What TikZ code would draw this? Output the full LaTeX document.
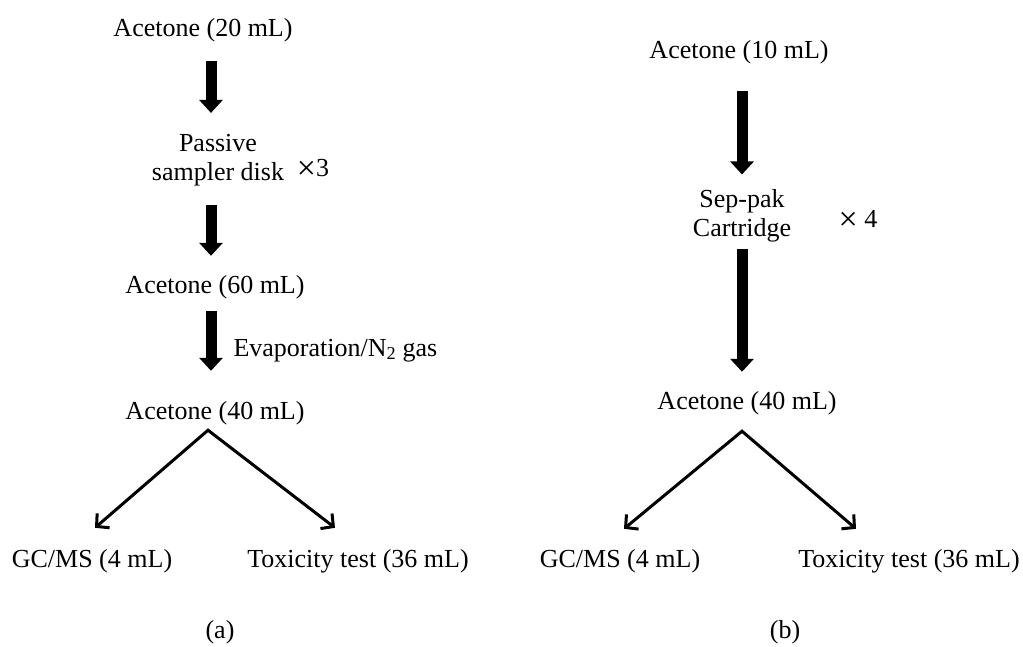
\documentclass[tikz,border=0pt]{standalone}
\usepackage{fontspec}
\setmainfont{Liberation Serif}
\usetikzlibrary{arrows.meta}

\newcommand{\bigtimes}{\raisebox{-3pt}{\fontsize{34}{34}\selectfont ×}}

\tikzset{
  txt/.style={inner sep=0pt, font=\fontsize{26}{29}\selectfont, text height=18pt, text depth=6pt},
  twoline/.style={inner sep=0pt, font=\fontsize{26}{29}\selectfont, align=center},
  fatarrow/.style={line width=11pt, -{Triangle[length=13pt,width=23pt]}},
  fork/.style={line width=3pt, line join=miter, {Straight Barb[length=9pt,width=19pt]}-{Straight Barb[length=9pt,width=19pt]}},
}

\begin{document}
\begin{tikzpicture}[x=1pt, y=-1pt]
    \useasboundingbox (0,0) rectangle (1023,646);
    \coordinate (colA) at (211,0);
    \coordinate (colB) at (742,0);

    % (a) passive sampler
    \node[txt] (a20) at (203,30) {Acetone (20 mL)};
    \node[twoline] (disk) at (218,160) {Passive\\sampler disk};
    \node[txt] (timesA) at (313,170) {\bigtimes3};
    \node[txt] (a60) at (215,287) {Acetone (60 mL)};
    \node[txt] (a40l) at (215,413) {Acetone (40 mL)};
    \node[txt] (gcA) at (92,561) {GC/MS (4 mL)};
    \node[txt] (toxA) at (358,561) {Toxicity test (36 mL)};
    \node[txt] (capA) at (220,632) {(a)};

    \draw[fatarrow, shorten <=19pt, shorten >=21pt] (colA |- a20.south) -- (colA |- disk.north);
    \draw[fatarrow, shorten <=19pt, shorten >=19pt] (colA |- disk.south) -- (colA |- a60.north);
    \draw[fatarrow, shorten <=12pt, shorten >=30pt] (colA |- a60.south) -- (colA |- a40l.north)
        node[txt, midway, right=17pt] (evap) {Evaporation/N\textsubscript{2} gas};
    \coordinate (forkA) at ([xshift=-7pt, yshift=-5pt]a40l.south);
    \draw[fork] ([shift={(3pt,21pt)}]gcA.north) -- (forkA) -- ([shift={(-23pt,21pt)}]toxA.north);

    % (b) sep-pak cartridge
    \node[txt] (a10) at (739,52) {Acetone (10 mL)};
    \node[twoline] (sep) at (742,216) {Sep-pak\\Cartridge};
    \node[txt] (timesB) at (858,221) {\bigtimes\ 4};
    \node[txt] (a40r) at (747,403) {Acetone (40 mL)};
    \node[txt] (gcB) at (620,561) {GC/MS (4 mL)};
    \node[txt] (toxB) at (909,561) {Toxicity test (36 mL)};
    \node[txt] (capB) at (785,632) {(b)};

    \draw[fatarrow, shorten <=27pt, shorten >=15pt] (colB |- a10.south) -- (colB |- sep.north);
    \draw[fatarrow, shorten <=6pt, shorten >=19pt] (colB |- sep.south) -- (colB |- a40r.north);
    \coordinate (forkB) at ([xshift=-5pt, yshift=-16pt]a40r.south);
    \draw[fork] ([shift={(4pt,20pt)}]gcB.north) -- (forkB) -- ([shift={(-53pt,20pt)}]toxB.north);
\end{tikzpicture}
\end{document}
